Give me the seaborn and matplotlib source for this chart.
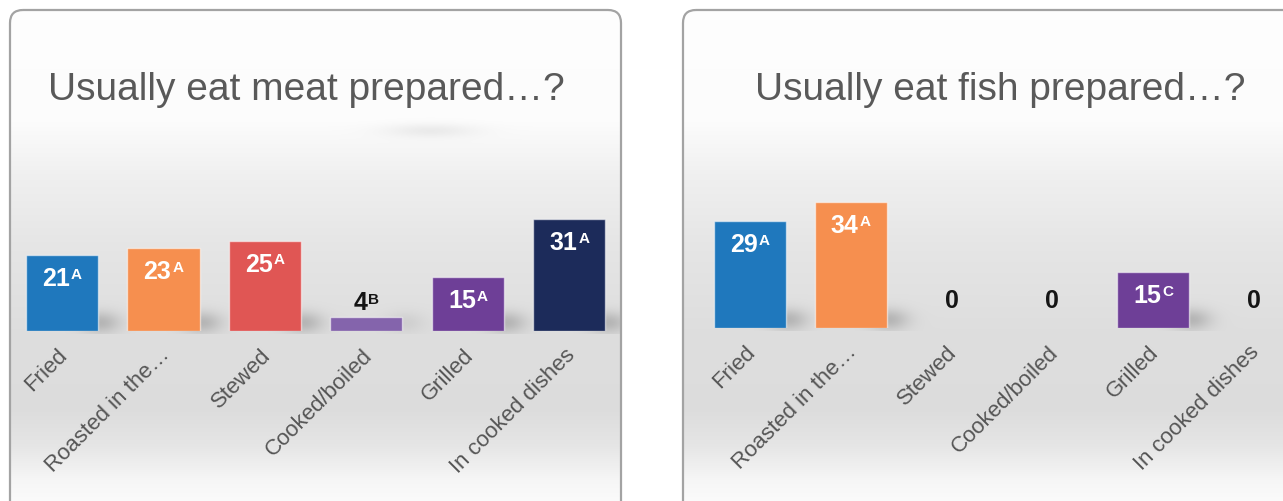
import numpy as np
import pandas as pd
import matplotlib
matplotlib.use("Agg")
import matplotlib.pyplot as plt
import matplotlib.transforms as mtrans
from matplotlib.patches import FancyBboxPatch
import seaborn as sns

# ---- data -------------------------------------------------------------
methods = ["Fried", "Roasted in the\u2026", "Stewed", "Cooked/boiled",
           "Grilled", "In cooked dishes"]
meat_values = [21, 23, 25, 4, 15, 31]
meat_letters = ["A", "A", "A", "B", "A", "A"]
fish_values = [29, 34, 0, 0, 15, 0]
fish_letters = ["A", "A", "", "", "C", ""]
meat_title = "Usually eat meat prepared\u2026?"
fish_title = "Usually eat fish prepared\u2026?"

meat_colors = ["#1f78bd", "#f68f4f", "#e05654", "#8464ac", "#6e3f97", "#1c2b5a"]
fish_colors = ["#1f78bd", "#f68f4f", "#e05654", "#8464ac", "#6e3f97", "#1c2b5a"]

# ---- figure -----------------------------------------------------------
sns.set_theme(style="white")
plt.rcParams["font.family"] = ["Liberation Sans", "DejaVu Sans"]

W, H = 1283, 501
fig = plt.figure(figsize=(W / 100, H / 100), dpi=100)
fig.patch.set_facecolor("white")

# background canvas in pixel coordinates (y measured from the top)
bg = fig.add_axes([0, 0, 1, 1], zorder=-5)
bg.set_xlim(0, W)
bg.set_ylim(H, 0)
bg.axis("off")

panels = [
    dict(values=meat_values, letters=meat_letters, colors=meat_colors,
         title=meat_title, title_x=48, axes=(11.3, 608.8, 331, 181), ymax=50.0),
    dict(values=fish_values, letters=fish_letters, colors=fish_colors,
         title=fish_title, title_x=755, axes=(699.6, 604.8, 328, 181), ymax=48.9),
]

axes = []
for p in panels:
    left, width, base, height = p["axes"]
    ax = fig.add_axes([left / W, (H - base) / H, width / W, height / H])
    ax.set_facecolor("none")
    df = pd.DataFrame({"method": methods, "value": p["values"]})
    sns.barplot(data=df, x="method", y="value", hue="method", palette=p["colors"],
                legend=False, dodge=False, width=0.71, saturation=1, ax=ax)
    for bar in ax.patches:
        if bar.get_height() > 0:
            bar.set_edgecolor((1, 1, 1, 0.55))
            bar.set_linewidth(1.0)
        else:
            bar.set_linewidth(0)
    ax.set_xlim(-0.5, 5.5)
    ax.set_ylim(0, p["ymax"])
    ax.set_xlabel("")
    ax.set_ylabel("")
    ax.set_yticks([])
    sns.despine(ax=ax, left=True, bottom=True)
    ax.tick_params(axis="x", length=0, pad=10, labelsize=16, labelcolor="#555555")
    shift = mtrans.ScaledTranslation(-5 / 100, 0, fig.dpi_scale_trans)
    for lab in ax.get_xticklabels():
        lab.set_rotation(45)
        lab.set_ha("right")
        lab.set_va("top")
        lab.set_rotation_mode("anchor")
        lab.set_transform(lab.get_transform() + shift)
    fig.text(p["title_x"] / W, (H - 100) / H, p["title"], fontsize=28,
             color="#595959", ha="left", va="baseline")
    axes.append(ax)

fig.canvas.draw()
renderer = fig.canvas.get_renderer()
ident = mtrans.IdentityTransform()

# ---- value labels with superscript significance letters ------------------
for ax, p in zip(axes, panels):
    for bar, v, letter in zip(ax.patches, p["values"], p["letters"]):
        cx = bar.get_x() + bar.get_width() / 2
        bx, by = ax.transData.transform((cx, bar.get_height()))
        inside = v >= 10
        color = "white" if inside else "#151515"
        t = fig.text(0, 0, str(v), fontsize=18, weight="bold", color=color,
                     ha="left", va="top" if inside else "baseline", transform=ident)
        wd = t.get_window_extent(renderer).width
        ws = 0
        s = None
        if letter:
            s = fig.text(0, 0, letter, fontsize=11, weight="bold", color=color,
                         ha="left", va="top", transform=ident)
            ws = s.get_window_extent(renderer).width + 1
        x0 = bx - (wd + ws) / 2
        if inside:
            top = by - 12
            t.set_position((x0, top))
        else:
            lift = 7 if v > 0 else 20
            t.set_position((x0, by + lift))
            top = by + lift + 18
        if s is not None:
            s.set_position((x0 + wd + 1, top - 1))

# ---- panel background: vertical gradient, bar shadows, rounded frame -----
ys = np.arange(H, dtype=float)
knots_y = [0, 120, 175, 245, 330, 410, 445, 480, 501]
knots_v = [0.995, 0.99, 0.94, 0.90, 0.87, 0.865, 0.90, 0.965, 0.985]
prof = np.interp(ys, knots_y, knots_v)
gray = np.repeat(prof[:, None], W, axis=1)

xx = np.arange(W, dtype=float)[None, :]
yy = ys[:, None]
for ax in axes:
    for bar in ax.patches:
        ext = bar.get_window_extent(renderer)
        hpx = ext.height
        if hpx < 1:
            continue
        strength = 0.16 * min(1.0, hpx / 40)
        x1 = ext.x1
        yb = H - ext.y0
        blob = np.exp(-(((xx - (x1 + 2)) / 20) ** 2) - (((yy - (yb - 9)) / 11) ** 2))
        blob *= (yy < yb + 3)
        gray -= strength * blob

# faint smudge under the left title
gray -= 0.06 * np.exp(-(((xx - 430) / 45) ** 2) - (((yy - 130) / 7) ** 2))

rgb = np.dstack([gray, gray, gray]).clip(0, 1)

for x0, w in [(10, 611), (683, 640)]:
    frame = FancyBboxPatch((x0, 10), w, 520, boxstyle="round,pad=0,rounding_size=13",
                           fc="none", ec="#a3a3a3", lw=1.6, zorder=3)
    bg.add_patch(frame)
    im = bg.imshow(rgb, extent=(0, W, H, 0), aspect="auto", zorder=1,
                   interpolation="bilinear")
    im.set_clip_path(frame)

bg.set_xlim(0, W)
bg.set_ylim(H, 0)

fig.savefig("out.png", dpi=100, facecolor="white")
